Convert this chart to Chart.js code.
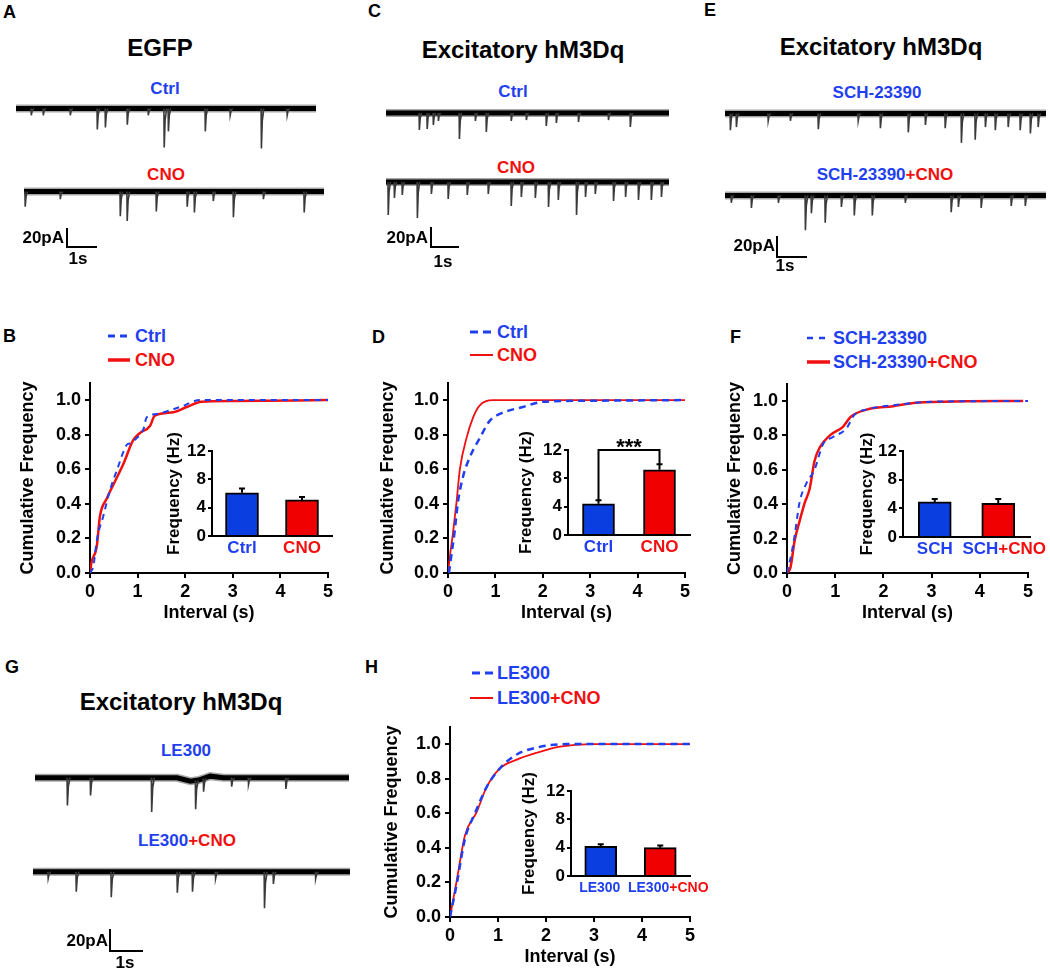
<!DOCTYPE html>
<html>
<head>
<meta charset="utf-8">
<script src="https://cdn.jsdelivr.net/npm/chart.js@4.4.1/dist/chart.umd.min.js"></script>
<style>
body { margin: 0; background: #fff; width: 1050px; height: 972px; position: relative; overflow: hidden;
       font-family: "Liberation Sans", Arial, sans-serif; font-weight: bold; }
canvas { position: absolute; }
svg { position: absolute; overflow: visible; }
.t { position: absolute; white-space: nowrap; line-height: 1; font-weight: bold; }
.c { transform: translate(-50%, -50%); }
.l { transform: translateY(-50%); }
.r { transform: translate(-100%, -50%); }
</style>
</head>
<body>
<script>
// ---- traces: event times (s) and amplitudes (pA) ----
const egfpCtrlTimes = [0.5, 0.9, 1.8, 2.7, 2.97, 3.7, 4.4, 4.93, 5.07, 6.3, 7.13, 8.17, 9.03]
const egfpCtrlAmps  = [7, 7, 7, 22, 20, 17, 7, 41, 24, 24, 7, 42, 7]
const egfpCnoTimes  = [0.03, 1.2, 3.2, 3.43, 4.4, 5.43, 5.67, 6.3, 6.97, 7.97, 9.33]
const egfpCnoAmps   = [16, 8, 26, 31, 21, 16, 22, 10, 27, 8, 22]

const hmCtrlTimes = [1.18, 1.46, 1.68, 1.86, 2.61, 3.18, 3.57, 4.46, 5.0, 5.71, 6.07, 6.86, 7.93, 8.71]
const hmCtrlAmps  = [17, 16, 12, 8, 26, 8, 19, 8, 7, 13, 10, 9, 7, 14]
const hmCnoTimes  = [0.07, 0.29, 0.57, 1.11, 1.61, 2.21, 2.89, 3.64, 4.46, 4.82, 5.32, 5.79, 6.14, 6.79, 7.11, 7.46, 8.11, 8.54, 9.0, 9.46, 9.82]
const hmCnoAmps   = [33, 16, 13, 36, 12, 17, 13, 12, 24, 15, 16, 25, 18, 33, 15, 12, 19, 15, 18, 18, 15]

const schTimes    = [0.17, 0.37, 1.43, 2.17, 3.1, 4.43, 5.17, 6.1, 6.67, 7.33, 7.87, 8.33, 8.67, 9.0, 9.43, 9.83, 10.17, 10.43]
const schAmps     = [16, 13, 7, 7, 15, 7, 14, 18, 11, 14, 28, 25, 13, 16, 13, 16, 19, 13]
const schCnoTimes = [0.2, 0.87, 1.77, 2.67, 2.87, 3.33, 3.87, 4.3, 4.9, 6.0, 7.53, 7.77, 8.53, 9.53, 10.0]
const schCnoAmps  = [7, 12, 7, 33, 17, 26, 11, 19, 19, 7, 16, 11, 12, 10, 10]

const leTimes     = [0.97, 1.67, 3.52, 4.85, 5.09, 5.94, 6.45, 7.58]
const leAmps      = [25, 16, 31, 26, 12, 8, 6, 10]
const leWander    = [[0, 0], [4.3, 0], [4.7, -3], [4.95, -2], [5.3, 1.5], [5.7, 0], [9.5, 0]]
const leCnoTimes  = [0.45, 1.3, 2.36, 4.36, 4.82, 5.52, 7.0, 7.27, 8.55]
const leCnoAmps   = [6, 18, 23, 19, 18, 6, 33, 11, 6]

const scaleBarPA = 20
const scaleBarS = 1

// ---- cumulative frequency curves: interval (s) / cumulative fraction ----
const bCtrlX = [0, 0.07, 0.15, 0.28, 0.42, 0.56, 0.77, 0.84, 0.98, 1.12, 1.19, 1.4, 1.89, 2.31, 5]
const bCtrlY = [0, 0.04, 0.2, 0.33, 0.48, 0.59, 0.74, 0.75, 0.78, 0.83, 0.9, 0.92, 0.96, 1.0, 1.0]
const bCnoX  = [0, 0.03, 0.14, 0.21, 0.35, 0.49, 0.7, 0.91, 1.05, 1.26, 1.36, 1.75, 2.03, 2.34, 3.0, 5]
const bCnoY  = [0, 0.06, 0.15, 0.33, 0.43, 0.51, 0.63, 0.77, 0.81, 0.85, 0.91, 0.93, 0.96, 0.99, 0.995, 1.0]

const dCtrlX = [0.02, 0.07, 0.14, 0.21, 0.32, 0.46, 0.67, 0.88, 1.09, 1.58, 2.0, 2.85, 5]
const dCtrlY = [0, 0.1, 0.24, 0.41, 0.56, 0.67, 0.78, 0.88, 0.92, 0.96, 0.99, 0.996, 1.0]
const dCnoX  = [0, 0.05, 0.1, 0.18, 0.25, 0.39, 0.53, 0.67, 0.95, 5]
const dCnoY  = [0, 0.12, 0.22, 0.41, 0.6, 0.78, 0.9, 0.97, 1.0, 1.0]

const fSchX    = [0, 0.09, 0.16, 0.26, 0.4, 0.57, 0.75, 0.95, 1.23, 1.4, 1.65, 2.34, 3.03, 5]
const fSchY    = [0, 0.11, 0.22, 0.41, 0.52, 0.6, 0.75, 0.79, 0.84, 0.92, 0.95, 0.98, 0.996, 1.0]
const fSchCnoX = [0, 0.07, 0.16, 0.26, 0.37, 0.47, 0.57, 0.68, 0.89, 1.16, 1.33, 1.65, 2.2, 2.68, 3.72, 4.9]
const fSchCnoY = [0, 0.03, 0.19, 0.3, 0.41, 0.49, 0.65, 0.73, 0.8, 0.85, 0.91, 0.95, 0.97, 0.99, 0.998, 1.0]

const hLeX    = [0, 0.14, 0.31, 0.52, 0.76, 1.04, 1.39, 1.81, 2.43, 5]
const hLeY    = [0, 0.19, 0.45, 0.6, 0.75, 0.86, 0.94, 0.98, 1.0, 1.0]
const hLeCnoX = [0, 0.14, 0.31, 0.56, 0.76, 1.04, 1.39, 1.81, 2.29, 2.92, 5]
const hLeCnoY = [0, 0.21, 0.47, 0.61, 0.75, 0.86, 0.91, 0.95, 0.985, 1.0, 1.0]

// ---- mean frequency (Hz) insets ----
const bFreqMean = [6.1, 5.1], bFreqSem = [0.6, 0.4]
const dFreqMean = [4.4, 9.2], dFreqSem = [0.5, 0.8]
const fFreqMean = [4.9, 4.7], fFreqSem = [0.4, 0.6]
const hFreqMean = [4.2, 4.0], hFreqSem = [0.3, 0.3]

const cumTicksX = [0, 1, 2, 3, 4, 5]
const cumTicksY = [0, 0.2, 0.4, 0.6, 0.8, 1.0]
const freqTicks = [0, 4, 8, 12]

const FONT = '"Liberation Sans", Arial, sans-serif'
const BLUE = '#1f3ff0', RED = '#f01010'
const BAR_BLUE = '#0b3ee0', BAR_RED = '#f00000'
Chart.defaults.font.family = FONT

function addCanvas(left, top, w, h) {
    const c = document.createElement('canvas')
    c.width = w
    c.height = h
    c.style.left = left + 'px'
    c.style.top = top + 'px'
    c.style.width = w + 'px'
    c.style.height = h + 'px'
    document.body.appendChild(c)
    return c
}

function text(parts, x, y, size, align) {
    const d = document.createElement('div')
    d.className = 't ' + (align || 'c')
    d.style.left = x + 'px'
    d.style.top = y + 'px'
    d.style.fontSize = size + 'px'
    if (typeof parts === 'string') parts = [[parts, '#000']]
    parts.forEach(([s, col]) => {
        const sp = document.createElement('span')
        sp.textContent = s
        sp.style.color = col
        d.appendChild(sp)
    })
    document.body.appendChild(d)
}

function legendLine(x1, x2, y, color, width, dash) {
    const svg = document.createElementNS('http://www.w3.org/2000/svg', 'svg')
    svg.setAttribute('width', 1)
    svg.setAttribute('height', 1)
    svg.style.left = '0px'
    svg.style.top = '0px'
    const ln = document.createElementNS('http://www.w3.org/2000/svg', 'line')
    ln.setAttribute('x1', x1); ln.setAttribute('x2', x2)
    ln.setAttribute('y1', y); ln.setAttribute('y2', y)
    ln.setAttribute('stroke', color)
    ln.setAttribute('stroke-width', width)
    if (dash) ln.setAttribute('stroke-dasharray', dash)
    svg.appendChild(ln)
    document.body.appendChild(svg)
}

const quiet = { legend: { display: false }, tooltip: { enabled: false } }

// one current trace: thick noisy baseline + thin spikes
function traceChart(o) {
    const up = 8, down = 50, pad = 3
    const w = Math.round(o.dur * o.pxS + 2 * pad)
    const h = Math.round((up + down) * o.pxPA)
    const canvas = addCanvas(o.x0 - pad, Math.round(o.y0 - up * o.pxPA), w, h)
    const wander = o.wander || [[0, 0], [o.dur, 0]]
    const base = wander.map(p => ({ x: p[0], y: p[1] }))
    const baseAt = (t) => {
        for (let i = 1; i < wander.length; i++) {
            if (t <= wander[i][0]) {
                const [t0, v0] = wander[i - 1], [t1, v1] = wander[i]
                return v0 + (v1 - v0) * (t - t0) / (t1 - t0)
            }
        }
        return 0
    }
    const spikes = []
    o.times.forEach((t, i) => {
        const b = baseAt(t), a = o.amps[i]
        spikes.push({ x: t, y: b }, { x: t + 0.01, y: b - a }, { x: t + 0.04, y: b - a * 0.3 },
                    { x: t + 0.09, y: b }, { x: t + 0.09, y: null })
    })
    new Chart(canvas, {
        type: 'line',
        data: {
            datasets: [
                { data: spikes, borderColor: '#3a3a3a', borderWidth: 1.6, pointRadius: 0, spanGaps: false },
                { data: base, borderColor: '#000', borderWidth: 5, pointRadius: 0 },
                { data: base, borderColor: 'rgba(0,0,0,0.35)', borderWidth: 8, pointRadius: 0 }
            ]
        },
        options: {
            responsive: false, animation: false, events: [],
            layout: { padding: 0 },
            plugins: quiet,
            scales: {
                x: { type: 'linear', display: false, min: -pad / o.pxS, max: o.dur + pad / o.pxS },
                y: { display: false, min: -down, max: up }
            }
        }
    })
}

function scaleBar(x, yTop, pxS, pxPA) {
    const pad = 2
    const w = Math.round(scaleBarS * pxS + 2 * pad), h = Math.round(scaleBarPA * pxPA + 2 * pad)
    const canvas = addCanvas(x - pad, yTop - pad, w, h)
    new Chart(canvas, {
        type: 'line',
        data: { datasets: [{ data: [{ x: 0, y: scaleBarPA }, { x: 0, y: 0 }, { x: scaleBarS, y: 0 }],
                             borderColor: '#000', borderWidth: 2, pointRadius: 0 }] },
        options: {
            responsive: false, animation: false, events: [], plugins: quiet,
            scales: {
                x: { type: 'linear', display: false, min: -pad / pxS, max: scaleBarS + pad / pxS },
                y: { display: false, min: -pad / pxPA, max: scaleBarPA + pad / pxPA }
            }
        }
    })
}

const zip = (xs, ys) => xs.map((x, i) => ({ x: x, y: ys[i] }))
const axisFont = { size: 18, weight: 'bold', family: FONT }

function cumChart(o) {
    const padTop = 8, padRight = 15, xH = 55
    const left = Math.round(o.titleX - 14.8)
    const yW = o.area.l - left
    const w = o.area.r - left + padRight
    const h = padTop + (o.area.b - o.area.t) + xH
    const canvas = addCanvas(left, o.area.t - padTop, w, h)
    const tickGrid = { display: true, drawOnChartArea: false, tickLength: 5, color: '#000', lineWidth: 2 }
    new Chart(canvas, {
        type: 'line',
        data: {
            datasets: [
                { data: zip(o.blueX, o.blueY), borderColor: BLUE, borderWidth: o.blueW, borderDash: o.dash,
                  pointRadius: 0, cubicInterpolationMode: 'monotone' },
                { data: zip(o.redX, o.redY), borderColor: RED, borderWidth: o.redW,
                  pointRadius: 0, cubicInterpolationMode: 'monotone' }
            ]
        },
        options: {
            responsive: false, animation: false, events: [],
            layout: { padding: { top: padTop, right: padRight, left: 0, bottom: 0 } },
            plugins: quiet,
            scales: {
                x: {
                    type: 'linear', min: 0, max: 5,
                    afterFit: (s) => { s.height = xH },
                    afterBuildTicks: (s) => { s.ticks = cumTicksX.map(v => ({ value: v })) },
                    grid: tickGrid,
                    border: { display: true, color: '#000', width: 2 },
                    ticks: { color: '#000', font: axisFont, padding: 3, maxRotation: 0, callback: v => String(v) },
                    title: { display: true, text: 'Interval (s)', color: '#000', font: axisFont }
                },
                y: {
                    min: 0, max: 1.1,
                    afterFit: (s) => { s.width = yW },
                    afterBuildTicks: (s) => { s.ticks = cumTicksY.map(v => ({ value: v })) },
                    grid: tickGrid,
                    border: { display: true, color: '#000', width: 2 },
                    ticks: { color: '#000', font: axisFont, padding: 4, callback: v => v.toFixed(1) },
                    title: { display: true, text: 'Cumulative Frequency', color: '#000', font: axisFont }
                }
            }
        }
    })
}

function insetChart(o) {
    const padTop = 30, padRight = 20, xH = 30
    const left = Math.round(o.titleX - 14.2)
    const yW = o.area.l - left
    const w = o.area.r - left + padRight
    const h = padTop + (o.area.b - o.area.t) + xH
    const canvas = addCanvas(left, o.area.t - padTop, w, h)
    const extras = {
        id: 'extras',
        afterDatasetsDraw(chart) {
            const ctx = chart.ctx, xs = chart.scales.x, ys = chart.scales.y
            ctx.save()
            ctx.strokeStyle = '#000'
            ctx.lineWidth = 2
            o.mean.forEach((m, i) => {
                const x = xs.getPixelForValue(i)
                const y1 = ys.getPixelForValue(m), y2 = ys.getPixelForValue(m + o.sem[i])
                ctx.beginPath()
                ctx.moveTo(x, y1); ctx.lineTo(x, y2)
                ctx.moveTo(x - 3, y2); ctx.lineTo(x + 3, y2)
                ctx.stroke()
            })
            if (o.bracket) {
                const xa = xs.getPixelForValue(0), xb = xs.getPixelForValue(1)
                const ya = ys.getPixelForValue(o.mean[0] + o.sem[0])
                const yb = ys.getPixelForValue(o.mean[1] + o.sem[1])
                const yt = ys.getPixelForValue(o.bracket.level)
                ctx.beginPath()
                ctx.moveTo(xa, ya); ctx.lineTo(xa, yt); ctx.lineTo(xb, yt); ctx.lineTo(xb, yb)
                ctx.stroke()
                ctx.fillStyle = '#000'
                ctx.font = 'bold 22px ' + FONT
                ctx.textAlign = 'center'
                ctx.textBaseline = 'alphabetic'
                ctx.fillText(o.bracket.text, (xa + xb) / 2, yt + 3.5)
            }
            ctx.font = 'bold ' + o.labelSize + 'px ' + FONT
            ctx.textAlign = 'left'
            ctx.textBaseline = 'middle'
            o.names.forEach((parts, i) => {
                const total = parts.reduce((s, p) => s + ctx.measureText(p[0]).width, 0)
                let x = xs.getPixelForValue(i) - total / 2 + (o.labelShift ? o.labelShift[i] : 0)
                parts.forEach(([s, col]) => {
                    ctx.fillStyle = col
                    ctx.fillText(s, x, ys.bottom + 12.5)
                    x += ctx.measureText(s).width
                })
            })
            ctx.restore()
        }
    }
    new Chart(canvas, {
        type: 'bar',
        data: {
            labels: o.names.map(p => p.map(q => q[0]).join('')),
            datasets: [{ data: o.mean, backgroundColor: [BAR_BLUE, BAR_RED], borderColor: '#000',
                         borderWidth: 2, barThickness: o.barW, borderSkipped: 'bottom' }]
        },
        options: {
            responsive: false, animation: false, events: [],
            layout: { padding: { top: padTop, right: padRight, left: 0, bottom: 0 } },
            plugins: quiet,
            scales: {
                x: {
                    afterFit: (s) => { s.height = xH },
                    grid: { display: false },
                    border: { display: true, color: '#000', width: 2 },
                    ticks: { display: false }
                },
                y: {
                    min: 0, max: 12,
                    afterFit: (s) => { s.width = yW },
                    afterBuildTicks: (s) => { s.ticks = freqTicks.map(v => ({ value: v })) },
                    grid: { display: true, drawOnChartArea: false, tickLength: 4, color: '#000', lineWidth: 2 },
                    border: { display: true, color: '#000', width: 2 },
                    ticks: { color: '#000', font: { size: 17, weight: 'bold', family: FONT }, padding: 2 },
                    title: { display: true, text: 'Frequency (Hz)', color: '#000',
                             font: { size: 17, weight: 'bold', family: FONT } }
                }
            }
        },
        plugins: [extras]
    })
}

// ---------- panel letters ----------
;[['A', 3, 12], ['B', 3, 336], ['C', 368, 11], ['D', 372, 337], ['E', 704, 10],
  ['F', 730, 337], ['G', 5, 667], ['H', 365, 667]].forEach(([s, x, y]) => text(s, x, y, 18, 'l'))

// ---------- A: EGFP ----------
text('EGFP', 160, 48, 24)
text([['Ctrl', BLUE]], 165, 88, 17)
text([['CNO', RED]], 166, 174, 17)
traceChart({ x0: 16, y0: 109, dur: 10.0, pxS: 30, pxPA: 0.95, times: egfpCtrlTimes, amps: egfpCtrlAmps })
traceChart({ x0: 24, y0: 192, dur: 10.0, pxS: 30, pxPA: 0.95, times: egfpCnoTimes, amps: egfpCnoAmps })
scaleBar(67, 228, 30, 0.95)
text('20pA', 64, 237, 17, 'r')
text('1s', 78, 258, 17)

// ---------- C: Excitatory hM3Dq ----------
text('Excitatory hM3Dq', 523, 50, 24)
text([['Ctrl', BLUE]], 513, 91, 17)
text([['CNO', RED]], 516, 167, 17)
traceChart({ x0: 386, y0: 113, dur: 10.1, pxS: 28, pxPA: 1.0, times: hmCtrlTimes, amps: hmCtrlAmps })
traceChart({ x0: 386, y0: 182, dur: 10.1, pxS: 28, pxPA: 1.0, times: hmCnoTimes, amps: hmCnoAmps })
scaleBar(431, 227, 28, 1.0)
text('20pA', 428, 237, 17, 'r')
text('1s', 443, 261, 17)

// ---------- E: Excitatory hM3Dq + SCH-23390 ----------
text('Excitatory hM3Dq', 881, 47, 24)
text([['SCH-23390', BLUE]], 877, 92, 17)
text([['SCH-23390', BLUE], ['+CNO', RED]], 885, 174, 17)
traceChart({ x0: 725, y0: 113, dur: 10.7, pxS: 30, pxPA: 1.05, times: schTimes, amps: schAmps })
traceChart({ x0: 725, y0: 195, dur: 10.7, pxS: 30, pxPA: 1.05, times: schCnoTimes, amps: schCnoAmps })
scaleBar(777, 236, 30, 1.05)
text('20pA', 775, 245, 17, 'r')
text('1s', 785, 265, 17)

// ---------- G: Excitatory hM3Dq + LE300 ----------
text('Excitatory hM3Dq', 181, 702, 24)
text([['LE300', BLUE]], 186, 750, 17)
text([['LE300', BLUE], ['+CNO', RED]], 187, 840, 17)
traceChart({ x0: 35, y0: 778, dur: 9.5, pxS: 33, pxPA: 1.1, times: leTimes, amps: leAmps, wander: leWander })
traceChart({ x0: 33, y0: 872, dur: 9.6, pxS: 33, pxPA: 1.1, times: leCnoTimes, amps: leCnoAmps })
scaleBar(110, 929, 33, 1.1)
text('20pA', 108, 940, 17, 'r')
text('1s', 125, 962, 17)

// ---------- B ----------
legendLine(108, 130, 336, BLUE, 3, '7 5')
legendLine(108, 130, 360, RED, 3.5)
text([['Ctrl', BLUE]], 135, 336, 18, 'l')
text([['CNO', RED]], 135, 360, 18, 'l')
cumChart({ area: { l: 90, t: 376, r: 328, b: 573 }, titleX: 28, blueX: bCtrlX, blueY: bCtrlY, redX: bCnoX, redY: bCnoY,
           blueW: 2, dash: [6, 5], redW: 2.5 })
insetChart({ area: { l: 212, t: 451, r: 332, b: 536 }, titleX: 174, mean: bFreqMean, sem: bFreqSem, barW: 33,
             labelSize: 17, names: [[['Ctrl', BLUE]], [['CNO', RED]]] })

// ---------- D ----------
legendLine(470, 491, 332, BLUE, 3, '8 5')
legendLine(470, 493, 355, RED, 2)
text([['Ctrl', BLUE]], 497, 332, 18, 'l')
text([['CNO', RED]], 497, 355, 18, 'l')
cumChart({ area: { l: 448, t: 376, r: 685, b: 573 }, titleX: 388, blueX: dCtrlX, blueY: dCtrlY, redX: dCnoX, redY: dCnoY,
           blueW: 2.5, dash: [7, 5], redW: 1.8 })
insetChart({ area: { l: 568, t: 450, r: 690, b: 535 }, titleX: 526, mean: dFreqMean, sem: dFreqSem, barW: 32,
             labelSize: 17, names: [[['Ctrl', BLUE]], [['CNO', RED]]], bracket: { level: 12, text: '***' } })

// ---------- F ----------
legendLine(807, 828, 338, BLUE, 2.5, '6 6')
legendLine(807, 830, 362, RED, 3.5)
text([['SCH-23390', BLUE]], 833, 338, 18, 'l')
text([['SCH-23390', BLUE], ['+CNO', RED]], 833, 362, 18, 'l')
cumChart({ area: { l: 787, t: 377, r: 1028, b: 573 }, titleX: 735, blueX: fSchX, blueY: fSchY, redX: fSchCnoX, redY: fSchCnoY,
           blueW: 2, dash: [6, 5], redW: 2.5 })
insetChart({ area: { l: 903, t: 451, r: 1030, b: 537 }, titleX: 867, mean: fFreqMean, sem: fFreqSem, barW: 33,
             labelSize: 17, labelShift: [0, 6], names: [[['SCH', BLUE]], [['SCH', BLUE], ['+CNO', RED]]] })

// ---------- H ----------
legendLine(472, 493, 673, BLUE, 3, '8 5')
legendLine(470, 493, 698, RED, 2)
text([['LE300', BLUE]], 497, 673, 18, 'l')
text([['LE300', BLUE], ['+CNO', RED]], 497, 698, 18, 'l')
cumChart({ area: { l: 450, t: 720, r: 690, b: 917 }, titleX: 392, blueX: hLeX, blueY: hLeY, redX: hLeCnoX, redY: hLeCnoY,
           blueW: 2.5, dash: [7, 5], redW: 1.8 })
insetChart({ area: { l: 571, t: 791, r: 690, b: 876 }, titleX: 529, mean: hFreqMean, sem: hFreqSem, barW: 32,
             labelSize: 14, labelShift: [-1, 8], names: [[['LE300', BLUE]], [['LE300', BLUE], ['+CNO', RED]]] })
</script>
</body>
</html>
